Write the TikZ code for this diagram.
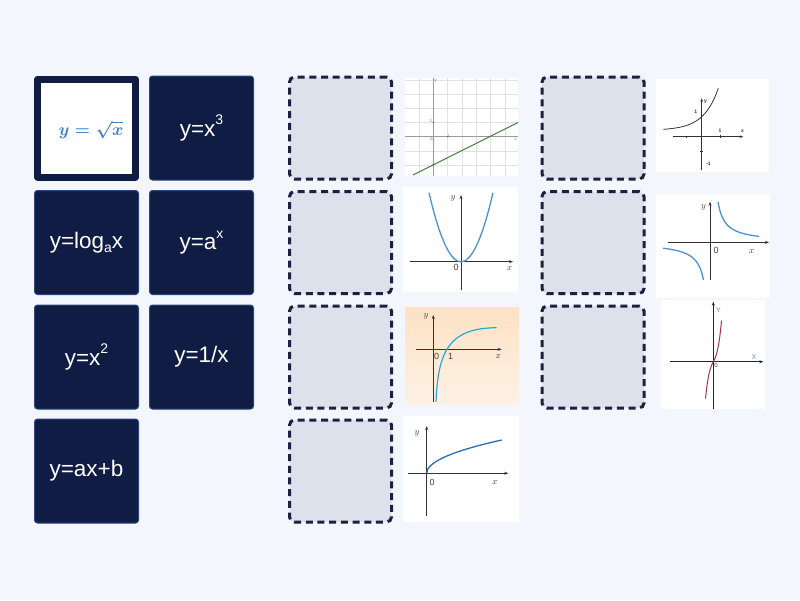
\documentclass[tikz,border=0pt]{standalone}
\usepackage{fontspec}
\setmainfont{Liberation Sans}
\usetikzlibrary{arrows.meta}
\definecolor{bg}{HTML}{F3F6FC}
\definecolor{navy}{HTML}{101C44}
\definecolor{navyedge}{HTML}{2A4680}
\definecolor{slot}{HTML}{DDE1EB}
\definecolor{slotedge}{HTML}{1B2140}
\definecolor{sqblue}{HTML}{3A80C2}
\definecolor{gridgray}{HTML}{E2E2E2}
\definecolor{axgray}{HTML}{9A9A9A}
\definecolor{linegreen}{HTML}{3F7F3A}
\definecolor{parblue}{HTML}{4A95CF}
\definecolor{logblue}{HTML}{2AA8D2}
\definecolor{sqrtblue}{HTML}{2A6DB5}
\definecolor{peachtop}{HTML}{FDE2C4}
\definecolor{peachbot}{HTML}{FDF1E5}
\definecolor{cubred}{HTML}{A3343E}
\definecolor{teal}{HTML}{4A9AA8}
\newcommand\mysup[1]{\raisebox{0.5em}{\fontsize{14}{14}\selectfont #1}}
\newcommand\mysub[1]{\raisebox{-0.18em}{\fontsize{14}{14}\selectfont #1}}
\tikzset{
  tile/.style={draw=navyedge, line width=1pt, fill=navy, minimum width=104pt,
    minimum height=104pt, rounded corners=3pt, inner sep=0pt, text=white,
    font=\fontsize{22.5}{26}\selectfont},
  tilewhite/.style={draw=navy, line width=7pt, fill=white, minimum width=98pt,
    minimum height=98pt, line join=round, inner sep=0pt},
  slotbox/.style={draw=slotedge, fill=slot, line width=3pt,
    dash pattern=on 7pt off 4.7pt, rounded corners=5pt,
    minimum width=102pt, minimum height=102pt, inner sep=0pt},
  axis/.style={line width=0.8pt, black!80, -{Stealth[length=4pt,width=3pt]}},
  glabel/.style={font=\fontsize{9}{9}\selectfont, text=black!75, inner sep=0pt},
  tiny/.style={font=\fontsize{4}{4}\selectfont, text=black!60, inner sep=0pt},
}
\begin{document}
\begin{tikzpicture}[x=1pt,y=-1pt]
\useasboundingbox (0,0) rectangle (800,600);
\fill[bg] (0,0) rectangle (800,600);

% answer tiles
\node[tilewhite] (t1) at (86.5,128) {};
\node[text=sqblue, font=\fontsize{18.5}{21}\selectfont\mathversion{bold}, inner sep=0pt] (t1txt) at (91,130) {$y=\sqrt{x}$};
\node[tile] (t2) at (201.5,128) {y=x\mysup{3}};
\node[tile] (t3) at (86.5,242.5) {y=log\mysub{a}x};
\node[tile] (t4) at (201.5,242.5) {y=a\mysup{x}};
\node[tile] (t5) at (86.5,357) {y=x\mysup{2}};
\node[tile] (t6) at (201.5,357) {y=1/x};
\node[tile] (t7) at (86.5,471) {y=ax+b};

% empty slots
\node[slotbox] (s1) at (340.5,128) {};
\node[slotbox] (s2) at (340.5,242.5) {};
\node[slotbox] (s3) at (340.5,357) {};
\node[slotbox] (s4) at (340.5,471) {};
\node[slotbox] (s5) at (593,128) {};
\node[slotbox] (s6) at (593,242.5) {};
\node[slotbox] (s7) at (593,357) {};

% ---- graph 1: line with grid
\fill[white] (405,78) rectangle (518,176);
\begin{scope}
\clip (405,78) rectangle (518,176);
\foreach \gx in {419,433.3,447.6,461.9,476.2,490.5,504.8}
  \draw[gridgray, line width=0.6pt] (\gx,78) -- (\gx,176);
\foreach \gy in {80,94.4,108.1,122.4,151,165.3}
  \draw[gridgray, line width=0.6pt] (405,\gy) -- (518,\gy);
\draw[axgray, line width=0.8pt] (405,136.7) -- (518,136.7);
\draw[axgray, line width=0.8pt] (433.3,78) -- (433.3,176);
\draw[linegreen, line width=1pt] (413,175) -- (518,122.5);
\fill[black!60] (433.3,122.4) circle (0.9);
\fill[black!60] (433.3,164.2) circle (0.9);
\fill[black!60] (447.6,136.7) circle (0.7);
\end{scope}
\node[tiny] (g1y) at (435.5,81) {y};
\node[tiny] (g1one) at (431,121) {1};
\node[tiny] (g1zero) at (431.5,139.5) {0};
\node[tiny] (g1onex) at (448.5,136.5) {1};
\node[tiny] (g1x) at (515.5,139) {x};

% ---- graph 2: parabola
\fill[white] (403,187) rectangle (518,292);
\draw[axis] (410,261.7) -- (513,261.7);
\draw[axis] (461,290) -- (461,195);
\draw[parblue, line width=1.3pt] plot[domain=-32:32, samples=60] ({461+\x},{261.7-69*(\x/32)*(\x/32)});
\node[glabel] (g2y) at (453,198) {$y$};
\node[glabel] (g2o) at (456,267) {0};
\node[glabel] (g2x) at (509.5,269) {$x$};

% ---- graph 3: logarithm on peach
\shade[top color=peachtop, bottom color=peachbot] (405,307) rectangle (519,404);
\draw[axis] (416,349.3) -- (501.7,349.3);
\draw[axis] (433.3,401.7) -- (433.3,315);
\draw[logblue, line width=1.2pt] (436,401.7) .. controls (438,350) and (450,328) .. (496.7,327.7);
\node[glabel] (g3y) at (426,316.5) {$y$};
\node[glabel] (g3o) at (436.5,356.5) {0};
\node[glabel] (g3one) at (450.7,356.5) {1};
\node[glabel] (g3x) at (498.3,357) {$x$};

% ---- graph 4: square root
\fill[white] (403,416) rectangle (519,522);
\draw[axis] (408.3,473.3) -- (508.3,473.3);
\draw[axis] (426.7,516) -- (426.7,426);
\draw[sqrtblue, line width=1.3pt] plot[domain=0:75, samples=80] ({426.7+\x},{473.3-33.3*sqrt(\x/75)});
\node[glabel] (g4y) at (417,433) {$y$};
\node[glabel] (g4o) at (432,482.5) {0};
\node[glabel] (g4x) at (495,482.5) {$x$};

% ---- graph 5: exponential
\fill[white] (656,79) rectangle (769,172);
\draw[line width=0.7pt, black!80, -{Stealth[length=3.5pt,width=2.5pt]}] (673.3,136.7) -- (743.3,136.7);
\draw[line width=0.7pt, black!80, -{Stealth[length=3.5pt,width=2.5pt]}] (701.7,170) -- (701.7,98.3);
\draw[line width=0.7pt, black!80] (720,135) -- (720,138.4);
\draw[line width=0.7pt, black!80] (686.7,135.5) -- (686.7,137.9);
\draw[line width=0.7pt, black!80] (700,151.7) -- (703.4,151.7);
\draw[black!80, line width=0.8pt] plot[domain=-38.4:16.6, samples=60] ({701.7+\x},{136.7-(6.4+13.6*exp(0.068*\x))});
\node[tiny, font=\fontsize{5}{5}\selectfont\bfseries, text=black!80] (g5y) at (705.5,101.5) {y};
\node[tiny, font=\fontsize{5}{5}\selectfont\bfseries, text=black!80] (g5x) at (742.5,131) {x};
\node[tiny, font=\fontsize{5}{5}\selectfont\bfseries, text=black!80] (g5one) at (695.7,111.7) {1};
\node[tiny, font=\fontsize{5}{5}\selectfont\bfseries, text=black!80] (g5onex) at (720,130.5) {1};
\node[tiny, font=\fontsize{5}{5}\selectfont\bfseries, text=black!80] (g5m) at (708.5,164) {-1};

% ---- graph 6: hyperbola
\fill[white] (656,194) rectangle (770,298);
\draw[axis] (668.3,242.3) -- (769,242.3);
\draw[axis] (710,280) -- (710,201.7);
\draw[parblue, line width=1.3pt] plot[domain=7:48, samples=60] ({711+\x},{242.3-283/\x});
\draw[parblue, line width=1.3pt] plot[domain=-48:-7.5, samples=60] ({711+\x},{242.3-283/\x});
\node[glabel] (g6y) at (703.5,207) {$y$};
\node[glabel] (g6o) at (716,250) {0};
\node[glabel] (g6x) at (751.7,251.5) {$x$};

% ---- graph 7: cubic
\fill[white] (661,300) rectangle (765,409);
\draw[line width=0.8pt, black!85, -{Stealth[length=4pt,width=3pt]}] (670,361.7) -- (763.3,361.7);
\draw[line width=0.8pt, black!85, -{Stealth[length=4pt,width=3pt]}] (713.3,409) -- (713.3,301.7);
\draw[cubred, line width=1pt] plot[domain=-7.8:8.2, samples=60] ({713.3+\x},{361.7-(2*\x+0.045*\x*\x*\x)});
\node[glabel, font=\fontsize{7}{7}\selectfont, text=teal] (g7y) at (718.5,310) {Y};
\node[glabel, font=\fontsize{7}{7}\selectfont, text=teal] (g7x) at (754,357) {X};
\node[glabel, font=\fontsize{6}{6}\selectfont] (g7o) at (716,365.5) {0};
\end{tikzpicture}
\end{document}
